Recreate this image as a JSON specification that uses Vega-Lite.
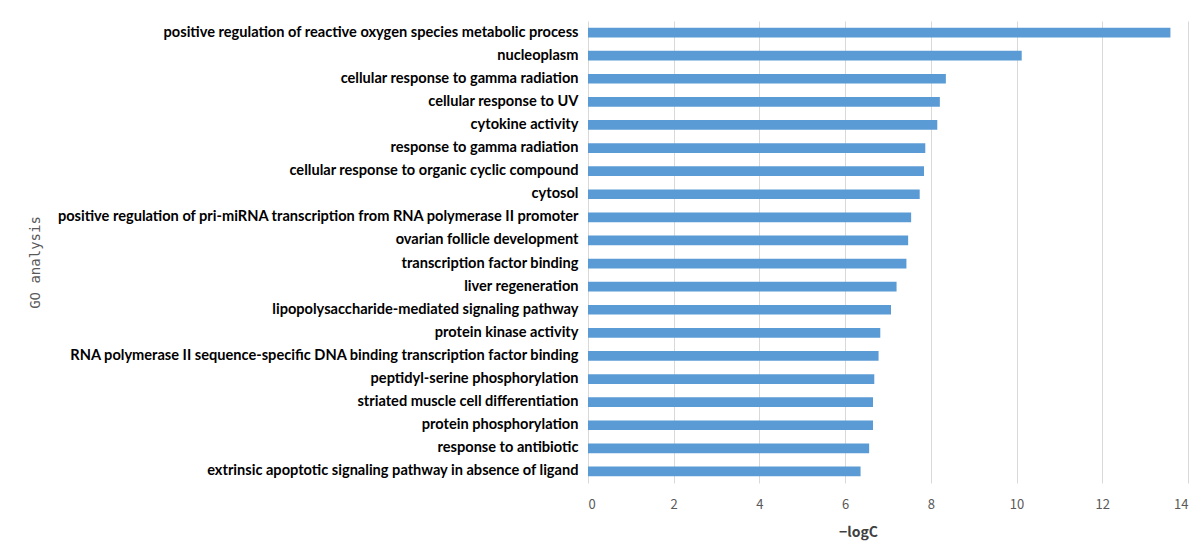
{
  "$schema": "https://vega.github.io/schema/vega-lite/v6.json",
  "width": 600,
  "height": 462,
  "autosize": {"type": "none"},
  "padding": {"left": 588, "top": 21, "right": 15, "bottom": 77},
  "background": "white",
  "config": {"view": {"stroke": null}},
  "data": {
    "values": [
      {"term": "positive regulation of reactive oxygen species metabolic process", "value": 13.59},
      {"term": "nucleoplasm", "value": 10.12},
      {"term": "cellular response to gamma radiation", "value": 8.35},
      {"term": "cellular response to UV", "value": 8.21},
      {"term": "cytokine activity", "value": 8.15},
      {"term": "response to gamma radiation", "value": 7.87},
      {"term": "cellular response to organic cyclic compound", "value": 7.84},
      {"term": "cytosol", "value": 7.74},
      {"term": "positive regulation of pri-miRNA transcription from RNA polymerase II promoter", "value": 7.54},
      {"term": "ovarian follicle development", "value": 7.47},
      {"term": "transcription factor binding", "value": 7.43},
      {"term": "liver regeneration", "value": 7.2},
      {"term": "lipopolysaccharide-mediated signaling pathway", "value": 7.07},
      {"term": "protein kinase activity", "value": 6.82},
      {"term": "RNA polymerase II sequence-specific DNA binding transcription factor binding", "value": 6.78},
      {"term": "peptidyl-serine phosphorylation", "value": 6.68},
      {"term": "striated muscle cell differentiation", "value": 6.65},
      {"term": "protein phosphorylation", "value": 6.65},
      {"term": "response to antibiotic", "value": 6.56},
      {"term": "extrinsic apoptotic signaling pathway in absence of ligand", "value": 6.36}
    ]
  },
  "mark": {"type": "bar", "color": "#5B9BD5", "height": {"band": 0.42}},
  "encoding": {
    "y": {
      "field": "term",
      "type": "nominal",
      "sort": null,
      "scale": {"paddingInner": 0, "paddingOuter": 0},
      "axis": {
        "title": "GO analysis",
        "titleFont": "DejaVu Sans Mono",
        "titleFontWeight": "normal",
        "titleFontSize": 14,
        "titleColor": "#595959",
        "titleX": -546,
        "titleY": 241,
        "domain": false,
        "ticks": false,
        "grid": false,
        "labelPadding": 10,
        "labelFont": "Lato",
        "labelFontWeight": "bold",
        "labelFontSize": 14.6,
        "labelColor": "#000000",
        "labelLimit": 0
      }
    },
    "x": {
      "field": "value",
      "type": "quantitative",
      "scale": {"domain": [0, 14], "nice": false},
      "axis": {
        "title": "−logC",
        "titleFont": "Noto Sans CJK SC",
        "titleFontWeight": "bold",
        "titleFontSize": 14,
        "titleColor": "#404040",
        "titlePadding": 14,
        "titleX": 270,
        "titleAlign": "center",
        "values": [0, 2, 4, 6, 8, 10, 12, 14],
        "domain": false,
        "ticks": false,
        "grid": true,
        "gridColor": "#d9d9d9",
        "gridWidth": 1,
        "labelPadding": 15,
        "labelFont": "Noto Sans CJK SC",
        "labelFontSize": 13,
        "labelColor": "#595959"
      }
    }
  }
}
